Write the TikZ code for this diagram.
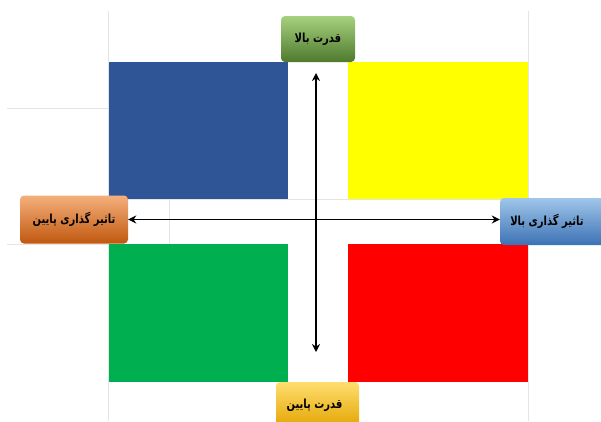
\documentclass[tikz,border=0pt]{standalone}
\usepackage{fontspec}
\newfontfamily\arabicfont[Script=Arabic,FakeStretch=0.8]{DejaVu Sans}
\TeXXeTstate=1
\usetikzlibrary{arrows.meta}
\definecolor{qblue}{HTML}{2F5597}
\definecolor{qyellow}{HTML}{FFFF00}
\definecolor{qgreen}{HTML}{00B050}
\definecolor{qred}{HTML}{FF0000}
\definecolor{gridgray}{HTML}{E4E4E4}
\definecolor{gtop}{HTML}{A6D17E}
\definecolor{gbot}{HTML}{4F7A2E}
\definecolor{ytop}{HTML}{FFDE70}
\definecolor{ybot}{HTML}{E3A400}
\definecolor{otop}{HTML}{F5B07C}
\definecolor{obot}{HTML}{C0580F}
\definecolor{btop}{HTML}{A0C6EA}
\definecolor{bbot}{HTML}{3C72B4}
\tikzset{
  label box/.style={rounded corners=4pt, inner sep=0pt, text=black, font=\arabicfont\bfseries\fontsize{12.5}{14}\selectfont},
  grid line/.style={draw=gridgray, line width=0.6pt},
  axis/.style={line width=1.8pt, {Stealth[length=8pt,width=8pt]}-{Stealth[length=8pt,width=8pt]}},
}
\begin{document}
\begin{tikzpicture}[x=1pt,y=-1pt]
\useasboundingbox (0,0) rectangle (601,421);
\clip (0,0) rectangle (601,421);
% faint grid lines
\draw[grid line] (108.5,11) -- (108.5,421);
\draw[grid line] (528,11) -- (528,421);
\draw[grid line] (7,108) -- (108,108);
\draw[grid line] (7,244) -- (108,244);
\draw[grid line] (108,199) -- (528,199);
\draw[grid line] (169,199) -- (169,244);
% quadrants
\fill[qblue] (108.5,62) rectangle (288,199);
\fill[qyellow] (348,62) rectangle (528,199);
\fill[qgreen] (108.5,244) rectangle (288,382);
\fill[qred] (348,244) rectangle (528,382);
% label boxes
\node[label box, top color=gtop, bottom color=gbot, minimum width=74pt, minimum height=46pt] (top) at (318,39) {\beginR قدرت بالا\endR};
\node[label box, top color=ytop, bottom color=ybot, minimum width=83pt, minimum height=46pt] (bot) at (317.5,405) {\beginR قدرت پایین\endR\hspace*{6pt}};
\node[label box, top color=otop, bottom color=obot, minimum width=108pt, minimum height=48pt] (left) at (74,219.5) {\beginR تاثیر گذاری  پایین\endR};
\node[label box, top color=btop, bottom color=bbot, minimum width=108pt, minimum height=47pt] (right) at (554,221.5) {\beginR تاثیر گذاری بالا\endR\hspace*{14pt}};
% axes
\coordinate (vtop) at (316,73);
\coordinate (vbot) at (316,352);
\draw[axis] (vtop) -- (vbot);
\draw[axis] (left.east) -- (left.east -| right.west);
\end{tikzpicture}
\end{document}
